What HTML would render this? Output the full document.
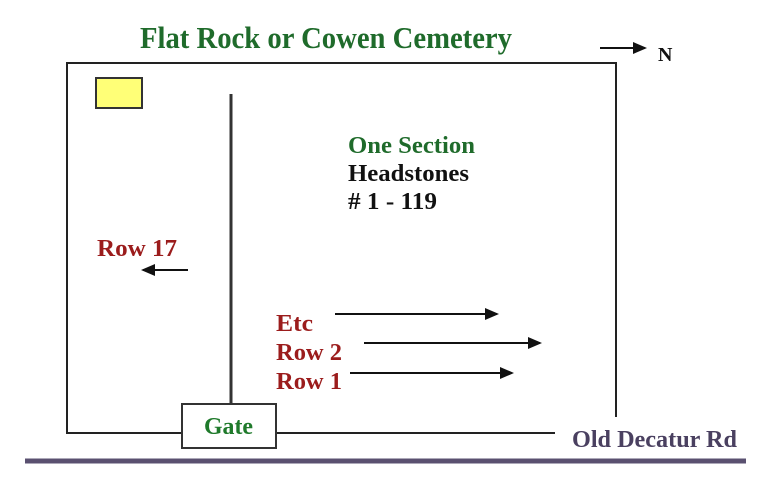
<!DOCTYPE html>
<html><head><style>body{margin:0;background:#fff}</style></head><body>
<svg width="766" height="493" viewBox="0 0 766 493" xmlns="http://www.w3.org/2000/svg" font-family="Liberation Serif, serif" font-weight="bold">
<defs><marker id="a" markerWidth="14" markerHeight="12" refX="12" refY="6" orient="auto" markerUnits="userSpaceOnUse"><path d="M0,0 L14,6 L0,12 z" fill="#111"/></marker></defs>
<text x="140" y="48" font-size="31" fill="#1f6b2b" textLength="372" lengthAdjust="spacingAndGlyphs">Flat Rock or Cowen Cemetery</text>
<line x1="600" y1="48" x2="645" y2="48" stroke="#111" stroke-width="2" marker-end="url(#a)"/>
<text x="658" y="61" font-size="20" fill="#111">N</text>
<path d="M555,433 L67,433 L67,63 L616,63 L616,417" fill="none" stroke="#222" stroke-width="2"/>
<rect x="96" y="78" width="46" height="30" fill="#ffff77" stroke="#333" stroke-width="2"/>
<line x1="231" y1="94" x2="231" y2="403" stroke="#333" stroke-width="3"/>
<rect x="182" y="404" width="94" height="44" fill="#fff" stroke="#333" stroke-width="2"/>
<text x="204" y="434" font-size="24" fill="#1f7a2b" textLength="49" lengthAdjust="spacingAndGlyphs">Gate</text>
<line x1="25" y1="461" x2="746" y2="461" stroke="#5a5070" stroke-width="5"/>
<text x="572" y="447" font-size="24" fill="#4a4060" textLength="165" lengthAdjust="spacingAndGlyphs">Old Decatur Rd</text>
<text x="348" y="153" font-size="24" fill="#1f6b2b" textLength="127" lengthAdjust="spacingAndGlyphs">One Section</text>
<text x="348" y="181" font-size="24" fill="#111" textLength="121" lengthAdjust="spacingAndGlyphs">Headstones</text>
<text x="348" y="209" font-size="24" fill="#111" textLength="89" lengthAdjust="spacingAndGlyphs"># 1 - 119</text>
<text x="97" y="256" font-size="24" fill="#9b1c1c" textLength="80" lengthAdjust="spacingAndGlyphs">Row 17</text>
<line x1="188" y1="270" x2="143" y2="270" stroke="#111" stroke-width="2" marker-end="url(#a)"/>
<text x="276" y="331" font-size="24" fill="#9b1c1c" textLength="37" lengthAdjust="spacingAndGlyphs">Etc</text>
<text x="276" y="360" font-size="24" fill="#9b1c1c" textLength="66" lengthAdjust="spacingAndGlyphs">Row 2</text>
<text x="276" y="389" font-size="24" fill="#9b1c1c" textLength="66" lengthAdjust="spacingAndGlyphs">Row 1</text>
<line x1="335" y1="314" x2="497" y2="314" stroke="#111" stroke-width="2" marker-end="url(#a)"/>
<line x1="364" y1="343" x2="540" y2="343" stroke="#111" stroke-width="2" marker-end="url(#a)"/>
<line x1="350" y1="373" x2="512" y2="373" stroke="#111" stroke-width="2" marker-end="url(#a)"/>
</svg>
</body></html>
